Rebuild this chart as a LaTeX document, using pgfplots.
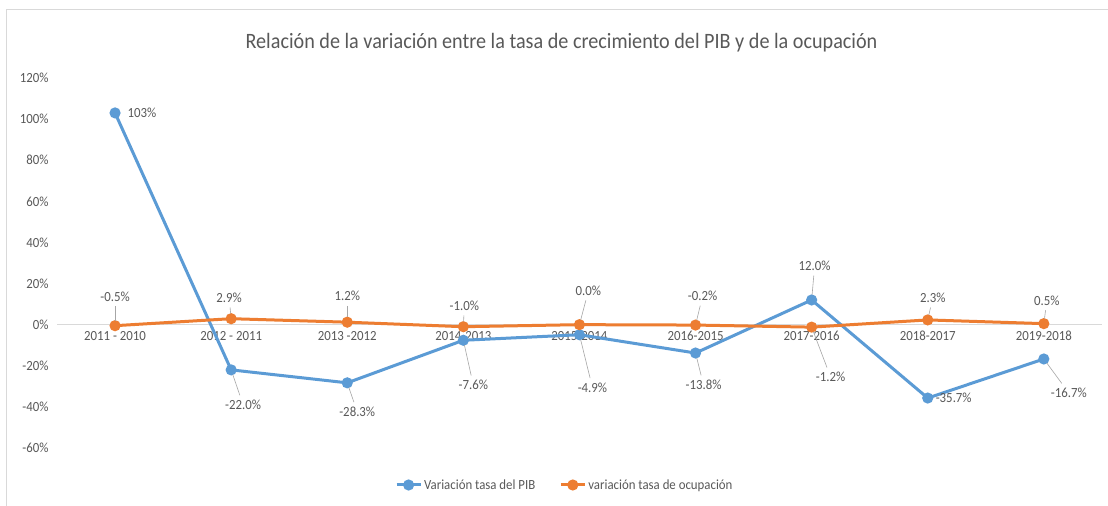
\documentclass[border=0pt]{standalone}
\usepackage{fontspec}
\setmainfont{Carlito}[FakeStretch=0.92]
\usepackage{pgfplots}
\usepackage{pgfplotstable}
\pgfplotsset{compat=1.18}
\definecolor{cblue}{HTML}{5B9BD5}
\definecolor{corange}{HTML}{ED7D31}
\definecolor{txt}{HTML}{595959}
\definecolor{bord}{HTML}{D9D9D9}
\definecolor{lead}{HTML}{A6A6A6}
\newcommand\lblfont{\fontsize{14}{16}\selectfont}

\pgfplotstableread[row sep=\\]{
x y dx dy lo\\
0 103 27 0 0\\
1 -22.0 12 -35 1\\
2 -28.3 10 -29 1\\
3 -7.6 10 -45 1\\
4 -4.9 13 -53 1\\
5 -13.8 8 -32 1\\
6 12.0 3 34 1\\
7 -35.7 26 0 0\\
8 -16.7 25 -34 1\\
}\pib

\pgfplotstableread[row sep=\\]{
x y dx dy lo\\
0 -0.5 0 29 1\\
1 2.9 -2 21 1\\
2 1.2 0 26 1\\
3 -1.0 1 21 1\\
4 0.0 9 34 1\\
5 -0.2 7 29 1\\
6 -1.2 19 -50 1\\
7 2.3 5 22 1\\
8 0.5 3 23 1\\
}\ocup

\begin{document}
\begin{tikzpicture}[x=1bp,y=1bp]
\useasboundingbox (0,0) rectangle (1108,506);
\fill[white] (0,0) rectangle (1108,506);
\draw[bord, line width=1bp] (6,0) -- (6,496) -- (1108,496);
\node[font=\fontsize{22}{26}\selectfont, text=txt] at (561.5,463)
  {Relación de la variación entre la tasa de crecimiento del PIB y de la ocupación};
\begin{axis}[
  at={(57bp,58bp)}, anchor=south west,
  scale only axis, width=1045bp, height=370bp,
  xmin=-0.5, xmax=8.5, ymin=-60, ymax=120,
  axis x line*=middle, axis y line*=left,
  x axis line style={draw=bord, line width=1bp, -},
  y axis line style={draw=none},
  major tick length=0pt,
  xtick={0,...,8},
  xticklabels={2011 - 2010, 2012 - 2011, 2013 -2012, 2014-2013, 2015-2014, 2016-2015, 2017-2016, 2018-2017, 2019-2018},
  ytick={-60,-40,...,120},
  yticklabels={-60\%,-40\%,-20\%,0\%,20\%,40\%,60\%,80\%,100\%,120\%},
  xticklabel style={font=\lblfont, text=txt, yshift=-3bp},
  yticklabel style={font=\lblfont, text=txt, anchor=east, xshift=-5bp},
  legend style={at={(0.486,-0.1)}, anchor=center, draw=none, fill=none,
    legend columns=2, font=\lblfont, text=txt,
    /tikz/every even column/.append style={column sep=22bp}},
  legend image code/.code={\draw[mark repeat=2,mark phase=2] plot coordinates {(0bp,0bp) (12bp,0bp) (24bp,0bp)};},
  clip=false,
  visualization depends on={\thisrow{dx} \as \ldx},
  visualization depends on={\thisrow{dy} \as \ldy},
  visualization depends on={\thisrow{lo} \as \llo},
  every node near coord/.append style={font=\lblfont, text=txt, anchor=center,
    shift={(\ldx bp,\ldy bp)},
    append after command={(\tikzlastnode) edge[draw=lead, line width=0.6bp, draw opacity=\llo, shorten >=5bp] ([xshift=-\ldx bp, yshift=-\ldy bp]\tikzlastnode.center)}},
]
\addplot[cblue, line width=3bp, mark=*, mark size=4bp, mark options={fill=cblue, draw=cblue},
  nodes near coords={\ifdim\pgfplotspointmetatransformed pt>999pt \pgfmathprintnumber[fixed, precision=0, assume math mode=true]{\pgfplotspointmeta}\else\pgfmathprintnumber[fixed, fixed zerofill, precision=1, assume math mode=true]{\pgfplotspointmeta}\fi\%}
  ] table[x=x, y=y] {\pib};
\addlegendentry{Variación tasa del PIB}
\addplot[corange, line width=3bp, mark=*, mark size=4bp, mark options={fill=corange, draw=corange},
  nodes near coords={\pgfmathprintnumber[fixed, fixed zerofill, precision=1, assume math mode=true]{\pgfplotspointmeta}\%}
  ] table[x=x, y=y] {\ocup};
\addlegendentry{variación tasa de ocupación}
\end{axis}
\end{tikzpicture}
\end{document}
